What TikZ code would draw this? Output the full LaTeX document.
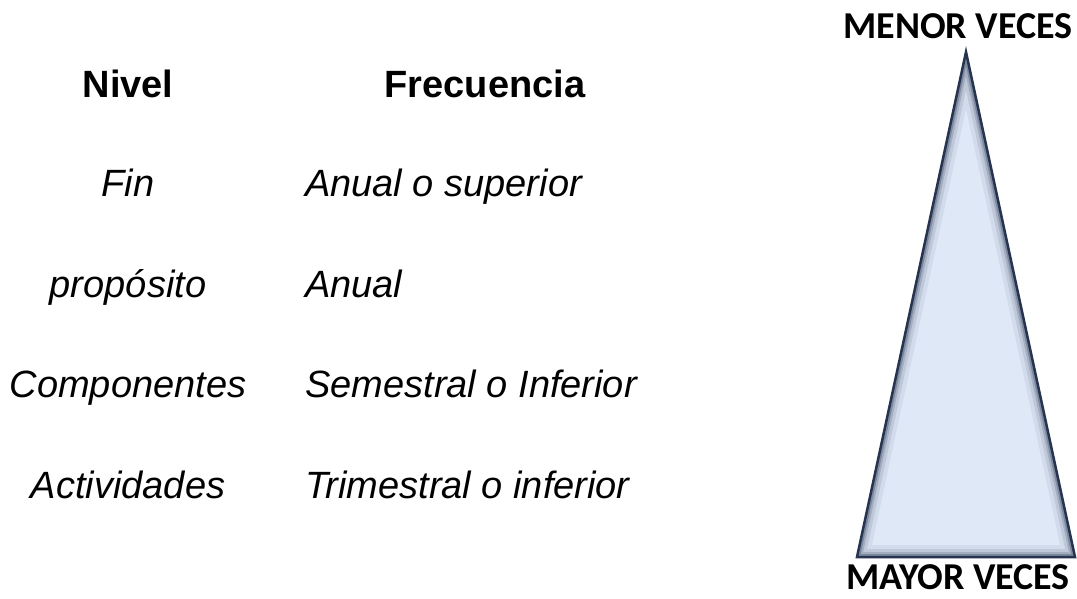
\documentclass[tikz,border=0pt]{standalone}
\usepackage{fontspec}
\setmainfont{Liberation Sans}
\newfontfamily\calibri{Carlito}
\definecolor{trifill}{HTML}{DEE8F7}
\definecolor{triedge}{HTML}{26344F}
\begin{document}
\begin{tikzpicture}[x=1pt, y=-1pt,
      head/.style={anchor=base, inner sep=0pt,
                   font=\fontsize{38}{44}\selectfont\bfseries},
      nivel/.style={anchor=base, inner sep=0pt,
                    font=\fontsize{38}{44}\selectfont\itshape},
      freq/.style={anchor=base west, inner sep=0pt,
                   font=\fontsize{38}{44}\selectfont\itshape},
      veces/.style={anchor=base, inner sep=0pt,
                    font=\calibri\bfseries\fontsize{38}{44}\selectfont},
      tri/.style={triedge, line join=miter},
    ]
    \useasboundingbox (0,0) rectangle (1077,598);

    % Headings
    \node[head] (hnivel) at (128, 97) {Nivel};
    \node[head] (hfreq)  at (485, 97) {Frecuencia};

    % Rows: nivel and frecuencia
    \node[nivel] (fin)  at (128, 196) {Fin};
    \node[freq]  (ffin) at (305, 196) {Anual o superior};
    \node[nivel] (prop)  at (128, 297) {propósito};
    \node[freq]  (fprop) at (305, 297) {Anual};
    \node[nivel] (comp)  at (128, 397) {Componentes};
    \node[freq]  (fcomp) at (305, 397) {Semestral o Inferior};
    \node[nivel] (act)  at (128, 498) {Actividades};
    \node[freq]  (fact) at (305, 498) {Trimestral o inferior};

    % Triangle
    \coordinate (apex) at (966, 52);
    \coordinate (bl)   at (857, 557);
    \coordinate (br)   at (1075, 557);
    \fill[trifill] (apex) -- (bl) -- (br) -- cycle;
    \begin{scope}
      \clip (apex) -- (bl) -- (br) -- cycle;
      \foreach \w/\o in {24/0.07, 16/0.11, 10/0.18, 6/0.30}
        \draw[tri, line width=\w, opacity=\o] (apex) -- (bl) -- (br) -- cycle;
    \end{scope}
    \draw[tri, line width=2.5] (apex) -- (bl) -- (br) -- cycle;

    % Labels
    \node[veces] (menor) at (958, 38)  {MENOR VECES};
    \node[veces] (mayor) at (958, 589) {MAYOR VECES};

    \end{tikzpicture}
\end{document}
